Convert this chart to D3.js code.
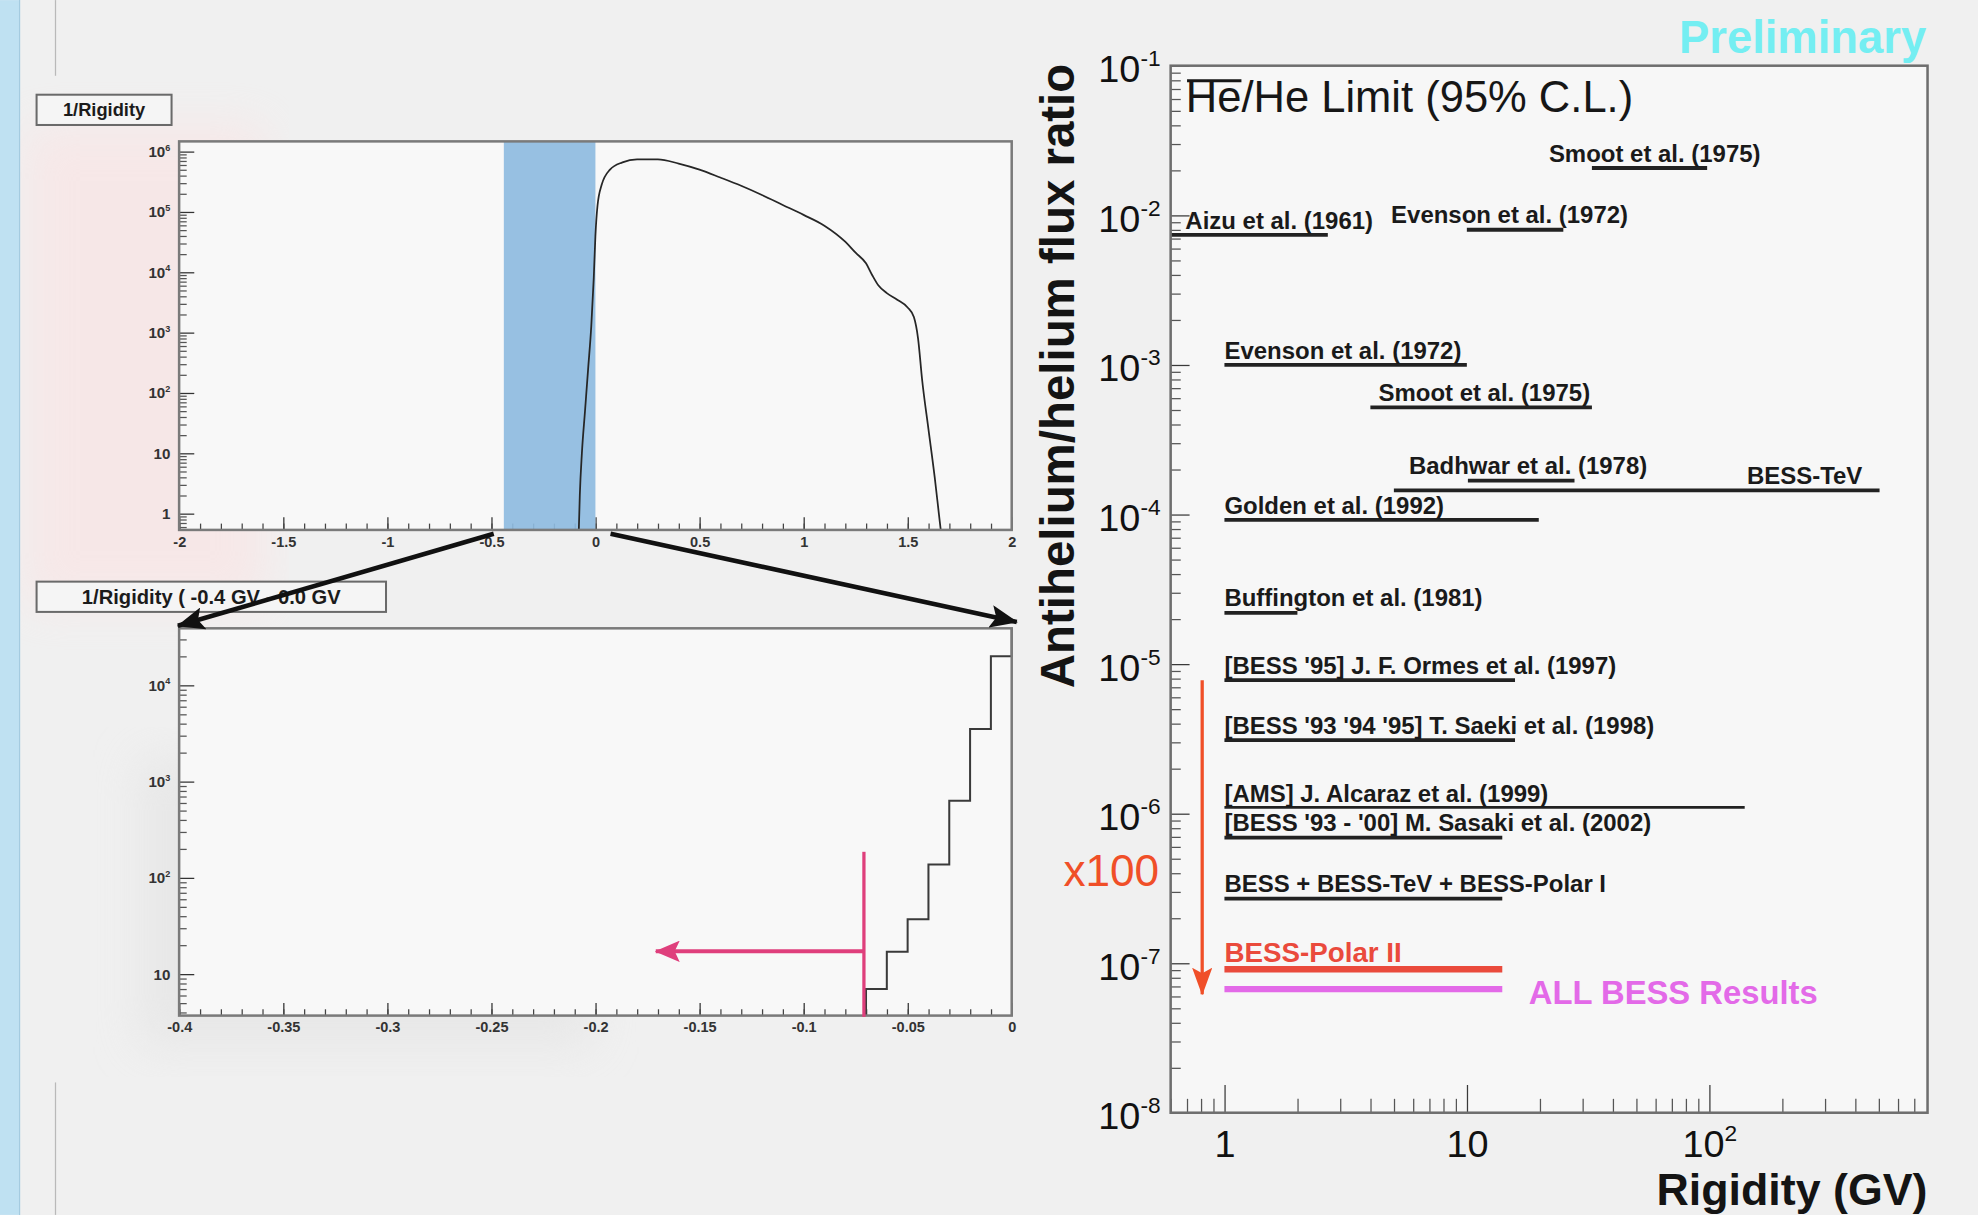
<!DOCTYPE html>
<html>
<head>
<meta charset="utf-8">
<script src="https://cdn.jsdelivr.net/npm/d3@7"></script>
<style>
  html, body { margin: 0; padding: 0; background: #f1f1f1; }
  svg { display: block; }
  text { font-family: "Liberation Sans", Arial, Helvetica, sans-serif; }
</style>
</head>
<body>
<svg id="chart"></svg>
<script>
// top histogram: 1/rigidity distribution (counts)
const topInvRigidity = [-0.08, -0.075, -0.065, -0.05, -0.035, -0.02, -0.008, 0.0, 0.01, 0.03, 0.07, 0.13, 0.2, 0.3, 0.4, 0.5, 0.6, 0.7, 0.8, 0.9, 1.0, 1.1, 1.2, 1.25, 1.3, 1.33, 1.36, 1.4, 1.45, 1.5, 1.53, 1.55, 1.57, 1.6, 1.63, 1.65, 1.66];
const topCounts = [0.5, 2, 10, 50, 250, 1260, 8000, 40000, 126000, 280000, 500000, 660000, 740000, 740000, 630000, 500000, 370000, 270000, 190000, 130000, 89000, 59000, 32000, 21000, 14000, 8900, 6000, 4500, 3500, 2600, 1800, 800, 160, 25, 4, 1, 0.5];
const selectedRange = [-0.44, 0];
const topXTicks = [-2, -1.5, -1, -0.5, 0, 0.5, 1, 1.5, 2];
const topYTicks = [1, 10, 1e2, 1e3, 1e4, 1e5, 1e6];

// zoomed histogram (-0.4 GV .. 0 GV)
const zoomEdges = [-0.07, -0.06, -0.05, -0.04, -0.03, -0.02, -0.01, 0];
const zoomCounts = [7, 17, 37, 137, 630, 3500, 20000];
const zoomXTicks = [-0.4, -0.35, -0.3, -0.25, -0.2, -0.15, -0.1, -0.05, 0];
const zoomYTicks = [10, 1e2, 1e3, 1e4];
const cutValue = -0.071;
const cutTop = 186;
const cutArrow = [-0.071, -0.171, 17.2];

// antihelium / helium limits (95% C.L.)
const limitNames = [
  'Smoot et al. (1975)', 'Aizu et al. (1961)', 'Evenson et al. (1972)', 'Evenson et al. (1972)',
  'Smoot et al. (1975)', 'Badhwar et al. (1978)', 'BESS-TeV', 'Golden et al. (1992)',
  'Buffington et al. (1981)', "[BESS '95] J. F. Ormes et al. (1997)",
  "[BESS '93 '94 '95] T. Saeki et al. (1998)", '[AMS] J. Alcaraz et al. (1999)',
  "[BESS '93 - '00] M. Sasaki et al. (2002)", 'BESS + BESS-TeV + BESS-Polar I',
  'BESS-Polar II', 'ALL BESS Results'
];
const limitLow   = [32.8, 0.6, 10, 1, 4.0, 10.1, 5.0, 1, 1, 1, 1, 1, 1, 1, 1, 1];
const limitHigh  = [98, 2.67, 25, 10, 32.8, 27.8, 504, 19.8, 2.0, 15.8, 15.8, 140, 14, 14, 14, 14];
const limitRatio = [2.07e-2, 7.4e-3, 8.0e-3, 1.0e-3, 5.2e-4, 1.68e-4, 1.45e-4, 9.2e-5, 2.2e-5, 7.8e-6, 3.1e-6, 1.1e-6, 6.9e-7, 2.7e-7, 9.1e-8, 6.7e-8];
const labelStart = [21.8, 0.69, 4.87, 1, 4.32, 5.77, 143, 1, 1, 1, 1, 1, 1, 1, 1, 18];
const ratioTicks = [1e-1, 1e-2, 1e-3, 1e-4, 1e-5, 1e-6, 1e-7, 1e-8];
const rigidityTicks = [1, 10, 100];
const scaleArrow = [1e-5 * 0.78, 6.2e-8];

const limitStyle = {
  'BESS-Polar II': { color: '#ea4a3c', width: 5, font: 22, dy: -6 },
  'ALL BESS Results': { color: '#e36ae8', width: 5, font: 26, dy: 12 },
  '[AMS] J. Alcaraz et al. (1999)': { color: '#222', width: 2, font: 19, dy: -4 }
};

const svg = d3.select('#chart')
  .attr('width', 1978)
  .attr('height', 1215)
  .attr('viewBox', '0 0 1568 963');
const defs = svg.append('defs');

defs.append('filter').attr('id', 'blur').append('feGaussianBlur').attr('stdDeviation', 18);

function arrowMarker(id, color, len, wid) {
  defs.append('marker')
    .attr('id', id)
    .attr('viewBox', `0 0 ${len} ${wid}`)
    .attr('refX', len - 1)
    .attr('refY', wid / 2)
    .attr('markerWidth', len)
    .attr('markerHeight', wid)
    .attr('markerUnits', 'userSpaceOnUse')
    .attr('orient', 'auto')
    .append('path')
    .attr('d', `M0,0L${len},${wid / 2}L0,${wid}L${len * 0.2},${wid / 2}Z`)
    .attr('fill', color);
}
arrowMarker('arBlack', '#111', 22, 18);
arrowMarker('arPink', '#df3f7c', 20, 17);
arrowMarker('arRed', '#f04f28', 22, 16);

// background (slide)
svg.append('rect').attr('width', 1568).attr('height', 963).attr('fill', '#f0f0f0');
svg.append('rect').attr('x', 20).attr('y', 100).attr('width', 190).attr('height', 380)
  .attr('fill', '#ffdede').attr('opacity', 0.45).attr('filter', 'url(#blur)');
svg.append('rect').attr('x', 110).attr('y', 600).attr('width', 360).attr('height', 230)
  .attr('fill', '#e2e2e2').attr('opacity', 0.6).attr('filter', 'url(#blur)');
svg.append('rect').attr('x', 0).attr('y', 0).attr('width', 15).attr('height', 963).attr('fill', '#bfe1f2');
svg.append('line').attr('x1', 15.5).attr('x2', 15.5).attr('y1', 0).attr('y2', 963).attr('stroke', '#a4cbe0').attr('stroke-width', 1);
svg.append('line').attr('x1', 44).attr('x2', 44).attr('y1', 0).attr('y2', 60).attr('stroke', '#b9b9b9');
svg.append('line').attr('x1', 44).attr('x2', 44).attr('y1', 858).attr('y2', 963).attr('stroke', '#b9b9b9');

function logMinors(lo, hi) {
  const out = [];
  for (let e = Math.floor(Math.log10(lo)) - 1; e <= Math.ceil(Math.log10(hi)); e++) {
    for (let m = 2; m <= 9; m++) {
      const v = m * Math.pow(10, e);
      if (v >= lo && v <= hi) out.push(v);
    }
  }
  return out;
}

function powLabel(text, v, size) {
  const e = Math.round(Math.log10(v));
  text.text(null);
  if (e === 0) { text.text('1'); return; }
  if (e === 1) { text.text('10'); return; }
  text.append('tspan').text('10');
  text.append('tspan').attr('font-size', size * 0.6).attr('dy', -size * 0.42).text(e);
}

function styleAxis(g, size, weight, color) {
  g.attr('font-family', '"Liberation Sans", Arial, sans-serif')
    .attr('font-size', size)
    .attr('font-weight', weight)
    .attr('color', color);
  g.select('.domain').remove();
}

function histPanel(opts) {
  const { x, y, box, boxText, boxFont } = opts;
  const [x0, x1] = x.range();
  const [yb, yt] = y.range();
  svg.append('rect').attr('x', box[0]).attr('y', box[1]).attr('width', box[2]).attr('height', box[3])
    .attr('fill', '#f5f5f5').attr('stroke', '#6a6a6a').attr('stroke-width', 1.6);
  svg.append('text').attr('x', box[0] + box[2] / 2).attr('y', box[1] + box[3] / 2 + boxFont * 0.36)
    .attr('text-anchor', 'middle').attr('font-size', boxFont).attr('font-weight', 'bold')
    .attr('fill', '#1b1b1b').text(boxText);
  svg.append('rect').attr('x', x0).attr('y', yt).attr('width', x1 - x0).attr('height', yb - yt)
    .attr('fill', '#f8f8f8');

  const gx = svg.append('g').attr('transform', `translate(0,${yb})`)
    .call(d3.axisBottom(x).tickValues(opts.xTicks).tickSizeInner(-10).tickSizeOuter(0).tickPadding(5)
      .tickFormat(d => String(+d.toFixed(2))));
  styleAxis(gx, 11.5, 'bold', '#333');
  const gxm = svg.append('g').attr('transform', `translate(0,${yb})`)
    .call(d3.axisBottom(x).tickValues(opts.xMinor).tickSizeInner(-5).tickSizeOuter(0).tickFormat(''));
  styleAxis(gxm, 10, 'normal', '#444');

  const gy = svg.append('g').attr('transform', `translate(${x0},0)`)
    .call(d3.axisLeft(y).tickValues(opts.yTicks).tickSizeInner(-12).tickSizeOuter(0).tickPadding(7));
  styleAxis(gy, 12, 'bold', '#333');
  gy.selectAll('.tick text').each(function (d) { powLabel(d3.select(this), d, 12); });
  const gym = svg.append('g').attr('transform', `translate(${x0},0)`)
    .call(d3.axisLeft(y).tickValues(logMinors(...y.domain())).tickSizeInner(-6).tickSizeOuter(0).tickFormat(''));
  styleAxis(gym, 10, 'normal', '#555');
  return { x0, x1, yb, yt };
}

// ---------- top histogram ----------
const xTop = d3.scaleLinear().domain([-2, 2]).range([142, 802]);
const yTop = d3.scaleLog().domain([0.535, 1.47e6]).range([420, 112]);
const topFrame = histPanel({
  x: xTop, y: yTop, box: [29, 75, 107, 24], boxText: '1/Rigidity', boxFont: 14.5,
  xTicks: topXTicks, xMinor: d3.range(-20, 21).map(i => i / 10), yTicks: topYTicks
});
svg.append('rect')
  .attr('x', xTop(selectedRange[0])).attr('y', topFrame.yt)
  .attr('width', xTop(selectedRange[1]) - xTop(selectedRange[0])).attr('height', topFrame.yb - topFrame.yt)
  .attr('fill', '#8ebbdf').attr('opacity', 0.92);
defs.append('clipPath').attr('id', 'clipTop').append('rect')
  .attr('x', topFrame.x0).attr('y', topFrame.yt).attr('width', topFrame.x1 - topFrame.x0).attr('height', topFrame.yb - topFrame.yt);
svg.append('path')
  .datum(topInvRigidity.map((v, i) => [v, topCounts[i]]))
  .attr('clip-path', 'url(#clipTop)')
  .attr('fill', 'none').attr('stroke', '#262626').attr('stroke-width', 1.4)
  .attr('d', d3.line().x(d => xTop(d[0])).y(d => yTop(d[1])).curve(d3.curveMonotoneX));
svg.append('rect').attr('x', topFrame.x0).attr('y', topFrame.yt).attr('width', topFrame.x1 - topFrame.x0)
  .attr('height', topFrame.yb - topFrame.yt).attr('fill', 'none').attr('stroke', '#7a7a7a').attr('stroke-width', 2);

// ---------- zoomed histogram ----------
const xBot = d3.scaleLinear().domain([-0.4, 0]).range([142, 802]);
const yBot = d3.scaleLog().domain([3.7, 39000]).range([805, 498]);
const botFrame = histPanel({
  x: xBot, y: yBot, box: [29, 461, 277, 24], boxText: '1/Rigidity ( -0.4 GV - 0.0 GV', boxFont: 16,
  xTicks: zoomXTicks, xMinor: d3.range(-40, 1).map(i => i / 100), yTicks: zoomYTicks
});
const stepPts = [[zoomEdges[0], yBot.domain()[0]]]
  .concat(zoomCounts.map((c, i) => [zoomEdges[i], c]))
  .concat([[zoomEdges[zoomEdges.length - 1], zoomCounts[zoomCounts.length - 1]], [zoomEdges[zoomEdges.length - 1], yBot.domain()[1]]]);
svg.append('path').datum(stepPts)
  .attr('fill', 'none').attr('stroke', '#3a3a3a').attr('stroke-width', 1.6)
  .attr('d', d3.line().x(d => xBot(d[0])).y(d => yBot(d[1])).curve(d3.curveStepAfter));
svg.append('rect').attr('x', botFrame.x0).attr('y', botFrame.yt).attr('width', botFrame.x1 - botFrame.x0)
  .attr('height', botFrame.yb - botFrame.yt).attr('fill', 'none').attr('stroke', '#7a7a7a').attr('stroke-width', 2);

// cut line and arrow
svg.append('line').attr('x1', xBot(cutValue)).attr('x2', xBot(cutValue))
  .attr('y1', yBot(cutTop)).attr('y2', botFrame.yb + 1)
  .attr('stroke', '#df3f7c').attr('stroke-width', 2.6);
svg.append('line').attr('x1', xBot(cutArrow[0])).attr('x2', xBot(cutArrow[1]))
  .attr('y1', yBot(cutArrow[2])).attr('y2', yBot(cutArrow[2]))
  .attr('stroke', '#df3f7c').attr('stroke-width', 3.2).attr('marker-end', 'url(#arPink)');

// zoom arrows from the selected band to the lower panel
svg.append('line').attr('x1', xTop(selectedRange[0]) - 8).attr('y1', topFrame.yb + 3)
  .attr('x2', botFrame.x0 - 1).attr('y2', botFrame.yt - 2)
  .attr('stroke', '#111').attr('stroke-width', 3.6).attr('marker-end', 'url(#arBlack)');
svg.append('line').attr('x1', xTop(selectedRange[1]) + 12).attr('y1', topFrame.yb + 3)
  .attr('x2', botFrame.x1 + 4).attr('y2', botFrame.yt - 5)
  .attr('stroke', '#111').attr('stroke-width', 3.6).attr('marker-end', 'url(#arBlack)');

// ---------- limit plot ----------
const xR = d3.scaleLog().domain([0.6, 795]).range([928, 1528]);
const yR = d3.scaleLog().domain([1e-8, 0.1]).range([882, 52]);
svg.append('rect').attr('x', 928).attr('y', 52).attr('width', 600).attr('height', 830).attr('fill', '#f7f7f7');

const gyr = svg.append('g').attr('transform', 'translate(928,0)')
  .call(d3.axisLeft(yR).tickValues(ratioTicks).tickSizeInner(-15).tickSizeOuter(0).tickPadding(8));
styleAxis(gyr, 30, 'normal', '#3a3a3a');
gyr.selectAll('.tick text').attr('fill', '#111').attr('dy', '0.42em')
  .each(function (d) { powLabel(d3.select(this), d, 30); });
const gyrm = svg.append('g').attr('transform', 'translate(928,0)')
  .call(d3.axisLeft(yR).tickValues(logMinors(1e-8, 0.1)).tickSizeInner(-8).tickSizeOuter(0).tickFormat(''));
styleAxis(gyrm, 10, 'normal', '#555');

const gxr = svg.append('g').attr('transform', 'translate(0,882)')
  .call(d3.axisBottom(xR).tickValues(rigidityTicks).tickSizeInner(-22).tickSizeOuter(0).tickPadding(14));
styleAxis(gxr, 30, 'normal', '#3a3a3a');
gxr.selectAll('.tick text').attr('fill', '#111').each(function (d) { powLabel(d3.select(this), d, 30); });
const gxrm = svg.append('g').attr('transform', 'translate(0,882)')
  .call(d3.axisBottom(xR).tickValues(logMinors(0.6, 795)).tickSizeInner(-11).tickSizeOuter(0).tickFormat(''));
styleAxis(gxrm, 10, 'normal', '#555');

defs.append('clipPath').attr('id', 'clipR').append('rect').attr('x', 928).attr('y', 52).attr('width', 600).attr('height', 830);

const limits = limitNames.map((name, i) => ({
  name, lo: limitLow[i], hi: limitHigh[i], r: limitRatio[i], at: labelStart[i],
  st: limitStyle[name] || { color: '#222', width: 3, font: 19, dy: -5 }
}));
svg.append('g').attr('clip-path', 'url(#clipR)')
  .selectAll('line').data(limits).join('line')
  .attr('x1', d => xR(d.lo)).attr('x2', d => xR(d.hi))
  .attr('y1', d => yR(d.r)).attr('y2', d => yR(d.r))
  .attr('stroke', d => d.st.color).attr('stroke-width', d => d.st.width);
svg.append('g').selectAll('text').data(limits).join('text')
  .attr('x', d => xR(d.at)).attr('y', d => yR(d.r) + d.st.dy)
  .attr('font-size', d => d.st.font).attr('font-weight', 'bold')
  .attr('fill', d => d.st.color === '#222' ? '#1a1a1a' : d.st.color)
  .text(d => d.name);

svg.append('rect').attr('x', 928).attr('y', 52).attr('width', 600).attr('height', 830)
  .attr('fill', 'none').attr('stroke', '#6e6e6e').attr('stroke-width', 2);

// title with overline on the antihelium symbol
const title = svg.append('text').attr('x', 940).attr('y', 89).attr('font-size', 34.5).attr('fill', '#161616');
const heBar = title.append('tspan').text('He');
title.append('tspan').text('/He Limit (95% C.L.)');
const heW = heBar.node().getComputedTextLength();
svg.append('line').attr('x1', 941).attr('x2', 940 + heW).attr('y1', 64).attr('y2', 64)
  .attr('stroke', '#161616').attr('stroke-width', 2.4);

svg.append('text').attr('transform', 'translate(851,298) rotate(-90)')
  .attr('text-anchor', 'middle').attr('font-size', 38).attr('font-weight', 'bold').attr('fill', '#141414')
  .attr('textLength', 495).attr('lengthAdjust', 'spacingAndGlyphs')
  .text('Antihelium/helium flux ratio');
svg.append('text').attr('x', 1528).attr('y', 955).attr('text-anchor', 'end')
  .attr('font-size', 35.5).attr('font-weight', 'bold').attr('fill', '#141414').text('Rigidity (GV)');
svg.append('text').attr('x', 1527).attr('y', 42).attr('text-anchor', 'end')
  .attr('font-size', 36).attr('font-weight', 'bold').attr('fill', '#74eef2').text('Preliminary');

// x100 improvement arrow
svg.append('line').attr('x1', 953).attr('x2', 953).attr('y1', yR(scaleArrow[0])).attr('y2', yR(scaleArrow[1]))
  .attr('stroke', '#f04f28').attr('stroke-width', 2.6).attr('marker-end', 'url(#arRed)');
svg.append('text').attr('x', 843).attr('y', 702).attr('font-family', '"DejaVu Sans", sans-serif')
  .attr('font-size', 35).attr('fill', '#f04f28').text('x100');
</script>
</body>
</html>
